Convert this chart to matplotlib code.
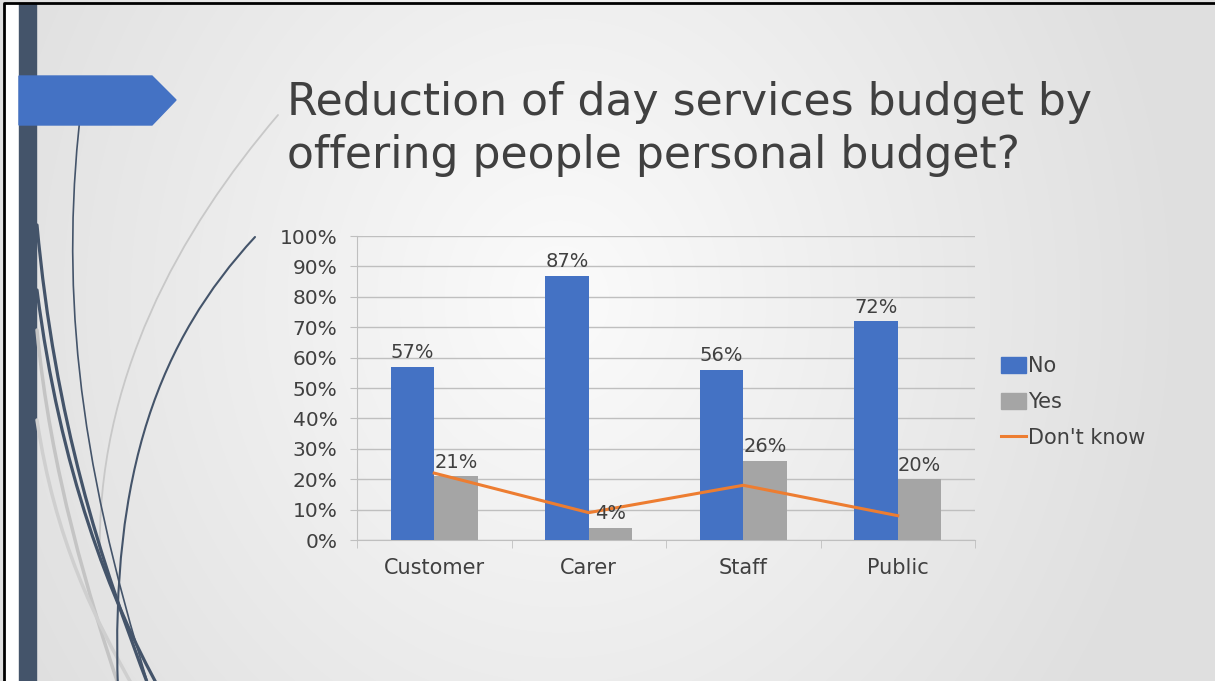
import numpy as np
from matplotlib import pyplot as plt
from matplotlib.path import Path
from matplotlib.patches import PathPatch, Polygon, Rectangle, Patch
from matplotlib.lines import Line2D

categories = ['Customer', 'Carer', 'Staff', 'Public']
no_vals = [57, 87, 56, 72]
yes_vals = [21, 4, 26, 20]
dont_know_vals = [22, 9, 18, 8]

title_lines = ['Reduction of day services budget by', 'offering people personal budget?']

BLUE = '#4472C4'
GREY = '#A5A5A5'
ORANGE = '#ED7D31'
TEXT = '#404040'
SLATE = '#44546A'
GRID = '#BFBFBF'

W, H = 1215, 681
fig = plt.figure(figsize=(W / 100, H / 100), dpi=100)

# slide background, drawn in pixel coordinates
bg = fig.add_axes([0, 0, 1, 1])
bg.set_xlim(0, W)
bg.set_ylim(H, 0)
bg.axis('off')

yy, xx = np.mgrid[0:H, 0:W]
r = np.sqrt(((xx - 560) / 800.0) ** 2 + ((yy - 300) / 900.0) ** 2)
shade = np.clip(0.985 - 0.14 * r, 0.875, 0.985)
bg.imshow(np.dstack([shade, shade, shade]), extent=(0, W, H, 0), zorder=0)

bg.add_patch(Rectangle((4, 3), 15, H, color='white', zorder=1))
bg.add_patch(Rectangle((19, 3), 17, H, color=SLATE, zorder=2))


def curve(pts, color, lw, z=3):
    codes = [Path.MOVETO] + [Path.CURVE4] * (len(pts) - 1)
    bg.add_patch(PathPatch(Path(pts, codes), fill=False, edgecolor=color,
                           lw=lw, capstyle='round', zorder=z))


# decorative swooshes on the left
curve([(278, 115), (180, 230), (95, 380), (100, 560)], '#C8C8C8', 1.3)
curve([(37, 330), (50, 470), (90, 600), (120, 690)], '#C4C4C4', 2.5)
curve([(37, 420), (55, 540), (95, 620), (135, 690)], '#CFCFCF', 2.5)
curve([(82, 100), (60, 280), (75, 450), (150, 690)], SLATE, 1.2)
curve([(37, 225), (55, 420), (100, 560), (150, 690)], SLATE, 2.3)
curve([(37, 290), (60, 470), (110, 600), (160, 690)], SLATE, 2.3)
curve([(255, 237), (160, 340), (110, 470), (118, 690)], SLATE, 1.5)

bg.add_patch(Polygon([(19, 76), (152, 76), (176, 100), (152, 125), (19, 125)],
                     closed=True, color=BLUE, zorder=4))
bg.plot([4, 4, W], [H, 3, 3], color='black', lw=2, zorder=5)

# title, sized so the first line spans the header width
t1 = bg.text(287, 115, title_lines[0], fontsize=30, color=TEXT, va='baseline', zorder=5)
t2 = bg.text(287, 168, title_lines[1], fontsize=30, color=TEXT, va='baseline', zorder=5)
fig.canvas.draw()
w = t1.get_window_extent().width
size = 30 * 806 / w
t1.set_fontsize(size)
t2.set_fontsize(size)

# chart
ax = fig.add_axes([357 / W, 1 - 540 / H, 618 / W, 304 / H])
ax.patch.set_alpha(0)
x = np.arange(len(categories))
bw = 0.28
b1 = ax.bar(x - bw / 2, no_vals, bw, color=BLUE, zorder=3, label='No')
b2 = ax.bar(x + bw / 2, yes_vals, bw, color=GREY, zorder=3, label='Yes')
ax.plot(x, dont_know_vals, color=ORANGE, lw=2.2, zorder=4, label="Don't know")

for bars, vals in ((b1, no_vals), (b2, yes_vals)):
    for rect, v in zip(bars, vals):
        ax.text(rect.get_x() + rect.get_width() / 2, v + 1.5, f'{v}%',
                ha='center', va='bottom', fontsize=14, color=TEXT, zorder=5)

ax.set_xlim(-0.5, len(categories) - 0.5)
ax.set_ylim(0, 100)
ax.set_yticks(range(0, 101, 10))
ax.set_yticklabels([f'{v}%' for v in range(0, 101, 10)])
ax.yaxis.grid(True, color=GRID, lw=1, zorder=0)
ax.set_xticks(x)
ax.set_xticklabels(categories)
ax.set_xticks(np.arange(-0.5, len(categories)), minor=True)
ax.tick_params(axis='x', which='major', length=0, pad=13, labelsize=15, labelcolor=TEXT)
ax.tick_params(axis='x', which='minor', length=6, color=GRID, direction='out')
ax.tick_params(axis='y', length=5, color=GRID, labelsize=14.5, labelcolor=TEXT, pad=9)
for side in ('top', 'right'):
    ax.spines[side].set_visible(False)
ax.spines['left'].set_color(GRID)
ax.spines['bottom'].set_color(GRID)

handles = [Patch(color=BLUE), Patch(color=GREY), Line2D([], [], color=ORANGE, lw=2.2)]
fig.legend(handles, ['No', 'Yes', "Don't know"], loc='center left',
           bbox_to_anchor=(982 / W, 1 - 402 / H), frameon=False, fontsize=15,
           labelcolor=TEXT, handlelength=1.2, handleheight=0.8, handletextpad=0.1,
           labelspacing=0.75)

fig.savefig('out.png', dpi=100)
